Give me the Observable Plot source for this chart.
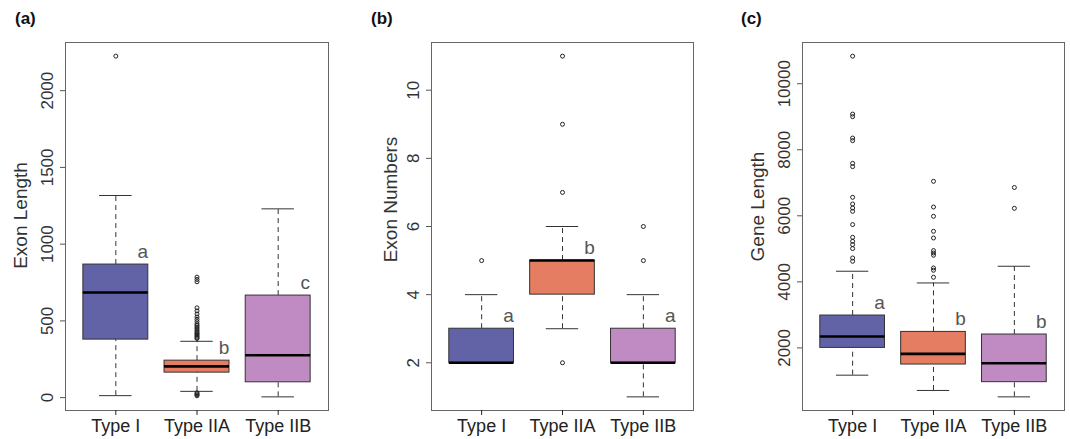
<!DOCTYPE html>
<html><head><meta charset="utf-8">
<script src="https://cdn.jsdelivr.net/npm/d3@7"></script>
<script src="https://cdn.jsdelivr.net/npm/@observablehq/plot@0.6"></script>
<style>
body{margin:0;background:#fff;font-family:"Liberation Sans",Arial,sans-serif;}
#wrap{position:relative;width:1070px;height:439px;overflow:hidden;}
.panel{position:absolute;top:0;}
.tag{position:absolute;top:9px;font-weight:bold;font-size:17px;color:#111;font-family:"Liberation Sans",Arial,sans-serif;}
</style></head><body><div id="wrap"></div>
<script>
// ---- categories & colours
const types = ["Type I", "Type IIA", "Type IIB"];
const boxColors = ["#6163a6", "#e57d62", "#c08ac3"];

// ---- (a) Exon Length
const exonLenLow  = [13, 41, 5];
const exonLenQ1   = [378, 163, 100];
const exonLenMed  = [685, 204, 276];
const exonLenQ3   = [867, 241, 665];
const exonLenHigh = [1317, 367, 1230];
const exonLenOutI   = [2225];
const exonLenOutIIA = [385, 392, 400, 408, 415, 422, 430, 440, 450, 460, 470, 480, 495, 510, 525, 545, 565, 585, 755, 770, 785, 12, 18, 25, 32];
const exonLenOutIIB = [];
const exonLenLetters = ["a", "b", "c"];
const exonLenTicks = [0, 500, 1000, 1500, 2000];

// ---- (b) Exon Numbers
const exonNumLow  = [2, 3, 1];
const exonNumQ1   = [2, 4, 2];
const exonNumMed  = [2, 5, 2];
const exonNumQ3   = [3, 5, 3];
const exonNumHigh = [4, 6, 4];
const exonNumOutI   = [5];
const exonNumOutIIA = [7, 9, 11, 2];
const exonNumOutIIB = [5, 6];
const exonNumLetters = ["a", "b", "a"];
const exonNumTicks = [2, 4, 6, 8, 10];

// ---- (c) Gene Length
const geneLenLow  = [1174, 711, 517];
const geneLenQ1   = [2000, 1496, 962];
const geneLenMed  = [2345, 1818, 1537];
const geneLenQ3   = [2980, 2484, 2405];
const geneLenHigh = [4321, 3967, 4472];
const geneLenOutI   = [10835, 9080, 9002, 8354, 8275, 7588, 7489, 6560, 6357, 6236, 6136, 5734, 5349, 5228, 5129, 5008, 4723, 4623];
const geneLenOutIIA = [7044, 6266, 5985, 5531, 5328, 4947, 4874, 4805, 4421, 4351, 4139];
const geneLenOutIIB = [6857, 6227];
const geneLenLetters = ["a", "b", "b"];
const geneLenTicks = [2000, 4000, 6000, 8000, 10000];

const FONT = '"Liberation Sans", Arial, sans-serif';

function boxPanel(cfg) {
  const rows = types.map((t, k) => ({
    i: k + 1, type: t, low: cfg.low[k], q1: cfg.q1[k], med: cfg.med[k],
    q3: cfg.q3[k], high: cfg.high[k], color: boxColors[k], letter: cfg.letters[k]
  }));
  const outliers = cfg.outliers.flatMap((arr, k) => arr.map(v => ({i: k + 1, v})));
  const all = rows.flatMap(r => [r.low, r.high]).concat(outliers.map(o => o.v));
  const [mn, mx] = d3.extent(all);
  const pad = (mx - mn) * 0.04;
  return Plot.plot({
    width: cfg.width, height: 439,
    marginLeft: cfg.ml, marginRight: cfg.mr, marginTop: 42, marginBottom: 29,
    style: {fontFamily: FONT, color: "#222", background: "transparent", overflow: "visible"},
    x: {domain: [0.38, 3.62]},
    y: {domain: [mn - pad, mx + pad]},
    color: {type: "identity"},
    marks: [
      Plot.ruleX(rows, {x: "i", y1: "q3", y2: "high", stroke: "#333", strokeDasharray: "5,4"}),
      Plot.ruleX(rows, {x: "i", y1: "low", y2: "q1", stroke: "#333", strokeDasharray: "5,4"}),
      Plot.ruleY(rows, {y: "high", x1: d => d.i - 0.2, x2: d => d.i + 0.2, stroke: "#333"}),
      Plot.ruleY(rows, {y: "low", x1: d => d.i - 0.2, x2: d => d.i + 0.2, stroke: "#333"}),
      Plot.rect(rows, {x1: d => d.i - 0.4, x2: d => d.i + 0.4, y1: "q1", y2: "q3", fill: "color", stroke: "#333", strokeWidth: 1}),
      Plot.ruleY(rows, {y: "med", x1: d => d.i - 0.4, x2: d => d.i + 0.4, stroke: "#000", strokeWidth: 2.6}),
      Plot.dot(outliers, {x: "i", y: "v", r: 2, stroke: "#222", strokeWidth: 1, fill: "none"}),
      Plot.text(rows, {x: "i", y: "q3", text: "letter", dx: 27, dy: -13, fontSize: 19, fill: "#555"}),
      Plot.frame({stroke: "#666"}),
      Plot.axisY({ticks: cfg.ticks, tickFormat: d => String(d), tickRotate: -90, tickSize: 5, tickPadding: 8, fontSize: 17, label: null, stroke: "#555", color: "#333"}),
      Plot.text([cfg.label], {frameAnchor: "left", textAnchor: "middle", rotate: -90, dx: -cfg.labelOffset, dy: cfg.labelDy, fontSize: 19, fill: "#333"}),
      Plot.axisX({ticks: [1, 2, 3], tickFormat: d => types[d - 1], tickSize: 5, tickPadding: 4, fontSize: 18, label: null, color: "#222"})
    ]
  });
}

const wrap = document.getElementById("wrap");
const panels = [
  {left: 0, width: 357, ml: 65, mr: 29, label: "Exon Length", labelOffset: 45, labelDy: -11, tag: "(a)", tagLeft: 15,
   low: exonLenLow, q1: exonLenQ1, med: exonLenMed, q3: exonLenQ3, high: exonLenHigh,
   outliers: [exonLenOutI, exonLenOutIIA, exonLenOutIIB], letters: exonLenLetters, ticks: exonLenTicks},
  {left: 357, width: 357, ml: 74, mr: 21, label: "Exon Numbers", labelOffset: 41, labelDy: -27, tag: "(b)", tagLeft: 371,
   low: exonNumLow, q1: exonNumQ1, med: exonNumMed, q3: exonNumQ3, high: exonNumHigh,
   outliers: [exonNumOutI, exonNumOutIIA, exonNumOutIIB], letters: exonNumLetters, ticks: exonNumTicks},
  {left: 714, width: 356, ml: 88, mr: 6, label: "Gene Length", labelOffset: 45, labelDy: -20, tag: "(c)", tagLeft: 741,
   low: geneLenLow, q1: geneLenQ1, med: geneLenMed, q3: geneLenQ3, high: geneLenHigh,
   outliers: [geneLenOutI, geneLenOutIIA, geneLenOutIIB], letters: geneLenLetters, ticks: geneLenTicks}
];
for (const p of panels) {
  const div = document.createElement("div");
  div.className = "panel";
  div.style.left = p.left + "px";
  div.appendChild(boxPanel(p));
  wrap.appendChild(div);
  const tag = document.createElement("div");
  tag.className = "tag";
  tag.style.left = p.tagLeft + "px";
  tag.textContent = p.tag;
  wrap.appendChild(tag);
}
</script></body></html>
